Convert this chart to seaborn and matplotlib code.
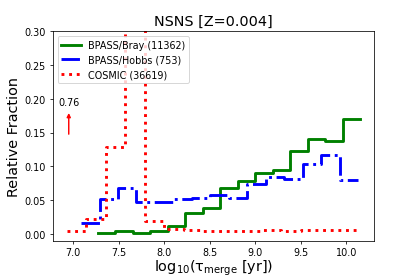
import matplotlib
matplotlib.use("Agg")
import matplotlib.pyplot as plt
import numpy as np
import pandas as pd
import seaborn as sns

# ---- data ----
bray_edges = [7.27, 7.462, 7.654, 7.846, 8.038, 8.23, 8.422, 8.614, 8.806, 8.998,
              9.19, 9.382, 9.574, 9.766, 9.958, 10.15]
bray_vals = [0.001, 0.004, 0.002, 0.004, 0.012, 0.031, 0.038, 0.068, 0.079, 0.091,
             0.095, 0.123, 0.140, 0.138, 0.171]

hobbs_edges = [7.085, 7.288, 7.491, 7.694, 7.897, 8.1, 8.303, 8.506, 8.709, 8.912,
               9.115, 9.318, 9.521, 9.724, 9.927, 10.13]
hobbs_vals = [0.017, 0.052, 0.068, 0.048, 0.048, 0.052, 0.054, 0.058, 0.053, 0.074,
              0.085, 0.081, 0.103, 0.117, 0.080]

cosmic_edges = [6.93, 7.144, 7.358, 7.572, 7.786, 8.0, 8.214, 8.428, 8.642, 8.856,
                9.07, 9.284, 9.498, 9.712, 9.926, 10.14]
cosmic_vals = [0.005, 0.022, 0.129, 0.76, 0.020, 0.007, 0.006, 0.005, 0.005, 0.004,
               0.006, 0.005, 0.0055, 0.006, 0.0055]

labels = ["BPASS/Bray (11362)", "BPASS/Hobbs (753)", "COSMIC (36619)"]
colors = ["green", "blue", "red"]
styles = ["-", "-.", ":"]
peak_label = "0.76"


def stair_frame(edges, vals):
    return pd.DataFrame({"x": edges, "y": list(vals) + [vals[-1]]})


fig = plt.figure(figsize=(6, 4), dpi=69.2)
ax = fig.add_subplot(111)
fig.subplots_adjust(left=0.127, right=0.9, top=0.884, bottom=0.127)

series = [(bray_edges, bray_vals), (hobbs_edges, hobbs_vals), (cosmic_edges, cosmic_vals)]
for (edges, vals), lab, col, ls in zip(series, labels, colors, styles):
    df = stair_frame(edges, vals)
    sns.lineplot(data=df, x="x", y="y", ax=ax, drawstyle="steps-post",
                 color=col, linestyle=ls, linewidth=3, label=lab, sort=False)

ax.set_xlim(6.774, 10.30)
ax.set_ylim(-0.01, 0.30)

ax.annotate("", xy=(6.95, 0.182), xytext=(6.95, 0.145),
            arrowprops=dict(arrowstyle="-|>", color="red", lw=1.5, mutation_scale=8))
ax.text(6.957, 0.188, peak_label, ha="center", va="bottom", fontsize=10)

ax.set_title("NSNS [Z=0.004]", fontsize=15)
ax.set_xlabel("log$_{10}$(τ$_{\\rm merge}$ [yr])", fontsize=15, labelpad=0.5)
ax.set_ylabel("Relative Fraction", fontsize=15)
ax.legend(loc="upper left", fontsize=10)

fig.savefig("out.png", dpi=69.2)
